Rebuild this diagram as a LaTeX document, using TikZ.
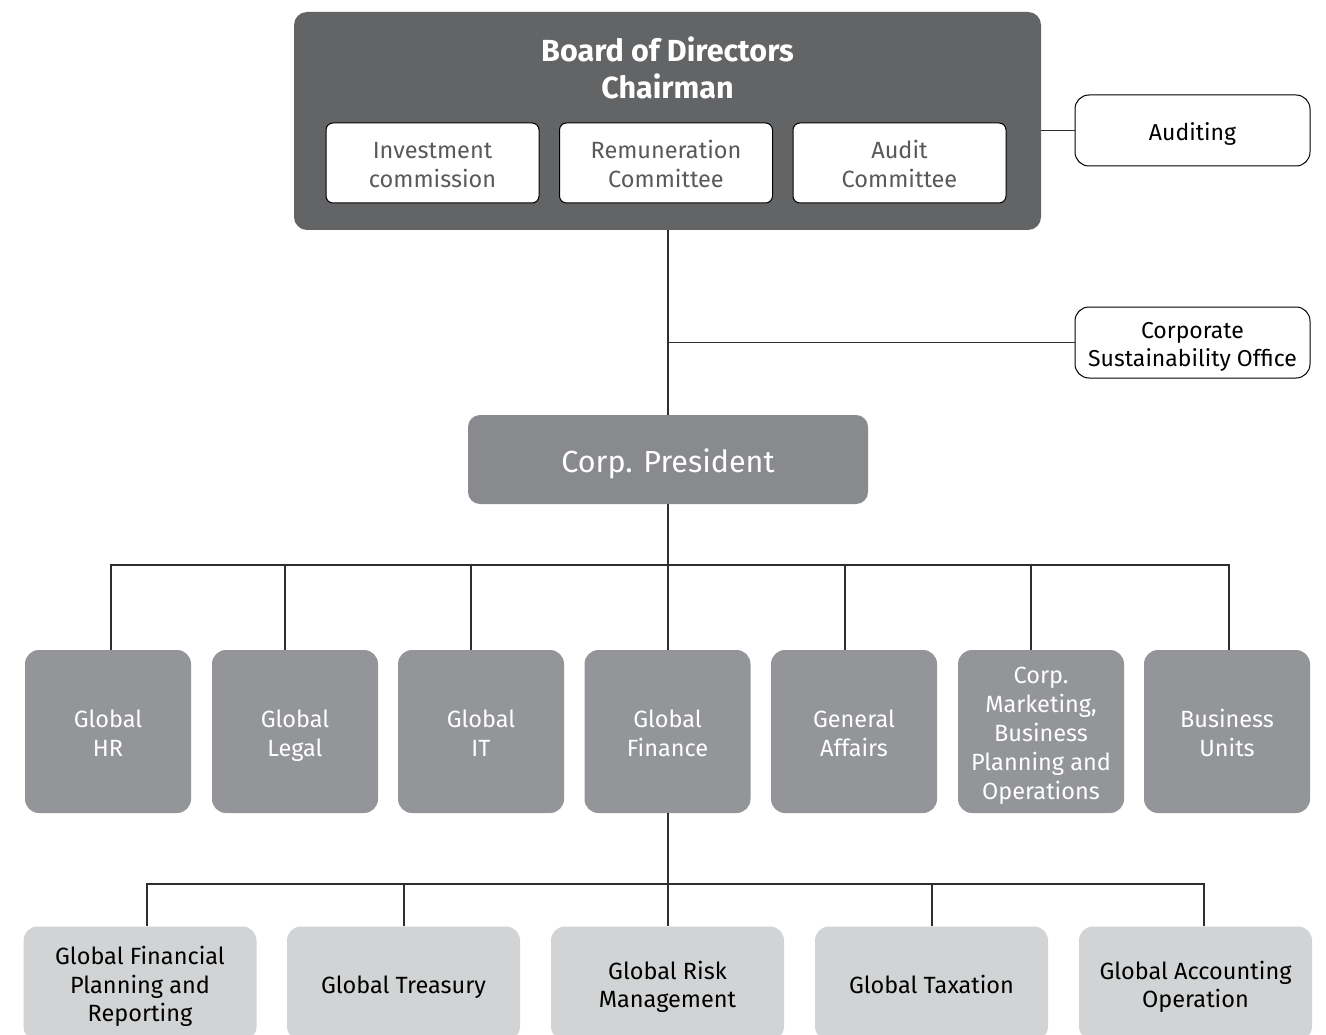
\documentclass[tikz,border=0pt]{standalone}
\usepackage{fontspec}
\setmainfont{Fira Sans}
\definecolor{boardgray}{HTML}{636466}
\definecolor{presgray}{HTML}{898A8D}
\definecolor{deptgray}{HTML}{939598}
\definecolor{unitgray}{HTML}{D1D3D4}
\definecolor{textgray}{HTML}{58595B}
\definecolor{linegray}{HTML}{2E2E2E}
% struts for the first and last line of a label, so that text sits a little low in its box
\newcommand{\topstrut}{\rule[-0.21\baselineskip]{0pt}{1.12\baselineskip}}
\newcommand{\botstrut}{\rule[-0.21\baselineskip]{0pt}{0.5\baselineskip}}
\begin{document}
\begin{tikzpicture}[x=1pt,y=-1pt,
  every node/.style={execute at end node=\botstrut},
  conn/.style={draw=linegray,line width=1.5pt},
  board/.style={fill=boardgray,rounded corners=13pt,minimum width=747pt,minimum height=218pt,inner sep=0pt},
  committee/.style={draw=black,line width=1pt,fill=white,rounded corners=7pt,minimum width=213pt,minimum height=80pt,
    align=center,text=textgray,font=\fontsize{23.5}{29}\selectfont,inner sep=0pt},
  sidebox/.style={draw=black,line width=1pt,fill=white,rounded corners=14pt,minimum width=235pt,minimum height=71pt,
    align=center,text=black,font=\fontsize{23}{28.5}\selectfont,inner sep=0pt},
  presbox/.style={fill=presgray,rounded corners=12pt,minimum width=400pt,minimum height=89pt,
    text=white,font=\fontsize{30.5}{36}\selectfont,inner sep=0pt},
  dept/.style={fill=deptgray,rounded corners=14pt,minimum width=166pt,minimum height=163pt,
    align=center,text=white,font=\fontsize{23.5}{29}\selectfont,inner sep=0pt},
  unit/.style={fill=unitgray,rounded corners=14pt,minimum width=233pt,minimum height=114pt,
    align=center,text=black,font=\fontsize{23.5}{28.5}\selectfont,inner sep=0pt}]
\clip (0,0) rectangle (1326,1035);
\fill[white] (0,0) rectangle (1326,1035);

% Board of directors with its committees
\node[board] (board) at (667.5,121) {};
\node[align=center,text=white,font=\bfseries\fontsize{30.5}{37}\selectfont,inner sep=0pt] (title) at (667.5,67) {\topstrut Board of Directors\\Chairman};
\node[committee] (inv) at (432.5,163) {\topstrut Investment\\commission};
\node[committee] (rem) at (666,163) {\topstrut Remuneration\\Committee};
\node[committee] (aud) at (899.5,163) {\topstrut Audit\\Committee};

% Side offices
\node[sidebox] (auditing) at (1192.5,130.5) {\topstrut Auditing};
\node[sidebox] (cso) at (1192.5,342.5) {\topstrut Corporate\\Sustainability Office};

% President
\node[presbox] (pres) at (668,459.5) {\topstrut Corp. President};

% Corporate departments
\node[dept] (hr) at (108,731.5) {\topstrut Global\\HR};
\node[dept] (legal) at (295,731.5) {\topstrut Global\\Legal};
\node[dept] (it) at (481,731.5) {\topstrut Global\\IT};
\node[dept] (fin) at (667.5,731.5) {\topstrut Global\\Finance};
\node[dept] (ga) at (854,731.5) {\topstrut General\\Affairs};
\node[dept] (mkt) at (1041,731.5) {\topstrut Corp.\\Marketing,\\Business\\Planning and\\Operations};
\node[dept] (bu) at (1227,731.5) {\topstrut Business\\Units};

% Finance units
\node[unit] (fpr) at (140,983.5) {\topstrut Global Financial\\Planning and\\Reporting};
\node[unit] (tre) at (403.5,983.5) {\topstrut Global Treasury};
\node[unit] (risk) at (667.5,983.5) {\topstrut Global Risk\\Management};
\node[unit] (tax) at (931.5,983.5) {\topstrut Global Taxation};
\node[unit] (acc) at (1195.5,983.5) {\topstrut Global Accounting\\Operation};

% Bus points
\coordinate (bus) at (668,565);
\coordinate (bus2) at (668,884);

% Connectors
\draw[conn] (board.east |- auditing.west) -- (auditing.west);
\draw[conn] (board.south -| pres.north) -- (pres.north);
\draw[conn] (cso.west) -- (cso.west -| pres.north);
\draw[conn] (pres.south) -- (bus);
\draw[conn] ([xshift=3pt]hr.north) |- (bus);
\draw[conn] ([xshift=-10pt]legal.north) |- (bus);
\draw[conn] ([xshift=-10pt]it.north) |- (bus);
\draw[conn] ([xshift=0.5pt]fin.north) -- (bus);
\draw[conn] ([xshift=-9pt]ga.north) |- (bus);
\draw[conn] ([xshift=-10pt]mkt.north) |- (bus);
\draw[conn] ([xshift=2pt]bu.north) |- (bus);

\draw[conn] ([xshift=0.5pt]fin.south) -- ([xshift=0.5pt]risk.north);
\draw[conn] ([xshift=7pt]fpr.north) |- (bus2);
\draw[conn] ([xshift=0.5pt]tre.north) |- (bus2);
\draw[conn] ([xshift=0.5pt]tax.north) |- (bus2);
\draw[conn] ([xshift=8.5pt]acc.north) |- (bus2);
\end{tikzpicture}
\end{document}
